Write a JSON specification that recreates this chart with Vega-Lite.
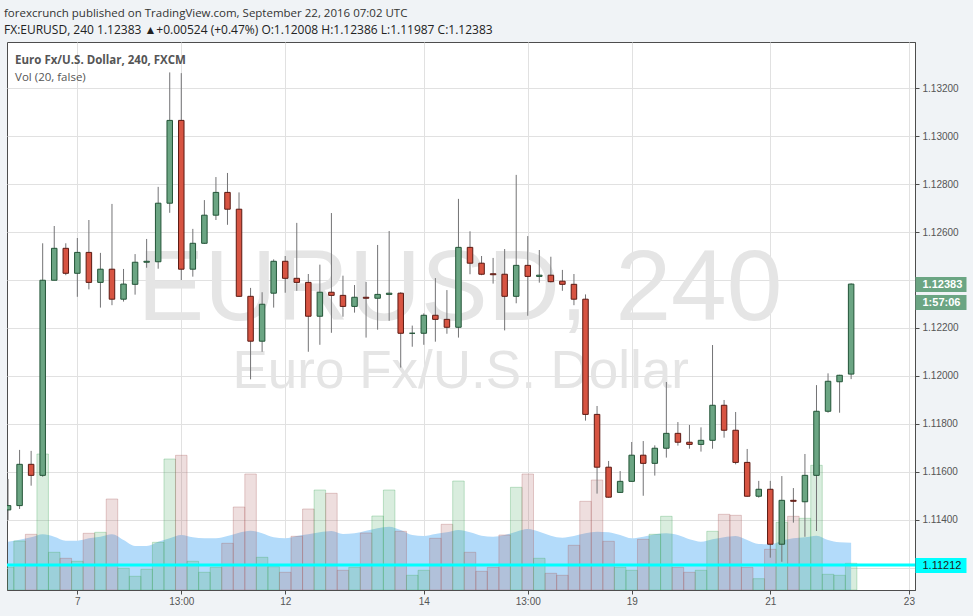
{
  "$schema": "https://vega.github.io/schema/vega-lite/v6.json",
  "width": 908,
  "height": 548,
  "autosize": {"type": "none"},
  "padding": {"left": 7, "top": 42, "right": 58, "bottom": 26},
  "background": "#f0f3f6",
  "view": {"fill": "#ffffff", "stroke": "#4d4d4d", "strokeWidth": 1},
  "title": {
    "text": "forexcrunch published on TradingView.com, September 22, 2016 07:02 UTC",
    "subtitle": "FX:EURUSD, 240  1.12383 ▲+0.00524 (+0.47%)  O:1.12008  H:1.12386  L:1.11987  C:1.12383",
    "anchor": "start",
    "frame": "group",
    "dx": -3,
    "offset": 6,
    "font": "Open Sans",
    "fontSize": 11.5,
    "fontWeight": "normal",
    "color": "#333333",
    "subtitleFont": "Open Sans",
    "subtitleFontSize": 12,
    "subtitleColor": "#222222",
    "subtitleFontWeight": "normal",
    "subtitlePadding": 5.5
  },
  "data": {
    "values": [
      {"i": -6, "o": 1.11442, "h": 1.11571, "l": 1.11400, "c": 1.11460, "v": 22.7, "ma": 48.3},
      {"i": -5, "o": 1.11460, "h": 1.11692, "l": 1.11446, "c": 1.11632, "v": 49, "ma": 50.3},
      {"i": -4, "o": 1.11632, "h": 1.11688, "l": 1.11543, "c": 1.11586, "v": 55.7, "ma": 52.7},
      {"i": -3, "o": 1.11586, "h": 1.12553, "l": 1.11580, "c": 1.12399, "v": 136, "ma": 55.7},
      {"i": -2, "o": 1.12399, "h": 1.12625, "l": 1.12399, "c": 1.12532, "v": 37.7, "ma": 53.3},
      {"i": -1, "o": 1.12532, "h": 1.12553, "l": 1.12420, "c": 1.12428, "v": 31.7, "ma": 49.3},
      {"i": 0, "o": 1.12428, "h": 1.12575, "l": 1.12330, "c": 1.12515, "v": 28.7, "ma": 49.3},
      {"i": 1, "o": 1.12515, "h": 1.12650, "l": 1.12361, "c": 1.12390, "v": 56.7, "ma": 51.7},
      {"i": 2, "o": 1.12390, "h": 1.12513, "l": 1.12285, "c": 1.12445, "v": 57.7, "ma": 53.3},
      {"i": 3, "o": 1.12445, "h": 1.12717, "l": 1.12295, "c": 1.12320, "v": 91, "ma": 55.7},
      {"i": 4, "o": 1.12320, "h": 1.12446, "l": 1.12310, "c": 1.12383, "v": 21.7, "ma": 50},
      {"i": 5, "o": 1.12382, "h": 1.12508, "l": 1.12339, "c": 1.12474, "v": 13.7, "ma": 44},
      {"i": 6, "o": 1.12474, "h": 1.12571, "l": 1.12451, "c": 1.12478, "v": 20.7, "ma": 44},
      {"i": 7, "o": 1.12476, "h": 1.12788, "l": 1.12447, "c": 1.12720, "v": 47.7, "ma": 48.3},
      {"i": 8, "o": 1.12720, "h": 1.13265, "l": 1.12680, "c": 1.13065, "v": 131, "ma": 51.7},
      {"i": 9, "o": 1.13065, "h": 1.13262, "l": 1.12400, "c": 1.12445, "v": 134.7, "ma": 55},
      {"i": 10, "o": 1.12445, "h": 1.12613, "l": 1.12414, "c": 1.12553, "v": 28.7, "ma": 52.7},
      {"i": 11, "o": 1.12553, "h": 1.12733, "l": 1.12550, "c": 1.12670, "v": 17.7, "ma": 51.7},
      {"i": 12, "o": 1.12670, "h": 1.12829, "l": 1.12650, "c": 1.12765, "v": 22.7, "ma": 51.7},
      {"i": 13, "o": 1.12765, "h": 1.12846, "l": 1.12630, "c": 1.12695, "v": 46.7, "ma": 54},
      {"i": 14, "o": 1.12695, "h": 1.12765, "l": 1.12330, "c": 1.12332, "v": 83, "ma": 57.3},
      {"i": 15, "o": 1.12332, "h": 1.12367, "l": 1.11986, "c": 1.12145, "v": 116, "ma": 59.3},
      {"i": 16, "o": 1.12145, "h": 1.12349, "l": 1.12101, "c": 1.12299, "v": 32.7, "ma": 56.7},
      {"i": 17, "o": 1.12345, "h": 1.12486, "l": 1.12285, "c": 1.12478, "v": 23.3, "ma": 52.7},
      {"i": 18, "o": 1.12478, "h": 1.12500, "l": 1.12347, "c": 1.12407, "v": 17.7, "ma": 51.7},
      {"i": 19, "o": 1.12407, "h": 1.12638, "l": 1.12355, "c": 1.12390, "v": 53.7, "ma": 54},
      {"i": 20, "o": 1.12390, "h": 1.12425, "l": 1.12101, "c": 1.12249, "v": 81, "ma": 55.7},
      {"i": 21, "o": 1.12249, "h": 1.12464, "l": 1.12130, "c": 1.12349, "v": 100, "ma": 57.7},
      {"i": 22, "o": 1.12349, "h": 1.12679, "l": 1.12180, "c": 1.12336, "v": 96.7, "ma": 59},
      {"i": 23, "o": 1.12336, "h": 1.12418, "l": 1.12247, "c": 1.12290, "v": 19.7, "ma": 56},
      {"i": 24, "o": 1.12290, "h": 1.12379, "l": 1.12264, "c": 1.12328, "v": 22.7, "ma": 56.7},
      {"i": 25, "o": 1.12328, "h": 1.12392, "l": 1.12160, "c": 1.12324, "v": 57, "ma": 59.3},
      {"i": 26, "o": 1.12324, "h": 1.12546, "l": 1.12193, "c": 1.12340, "v": 74, "ma": 61.7},
      {"i": 27, "o": 1.12340, "h": 1.12604, "l": 1.12230, "c": 1.12345, "v": 100, "ma": 63.3},
      {"i": 28, "o": 1.12345, "h": 1.12349, "l": 1.12035, "c": 1.12178, "v": 58.7, "ma": 60},
      {"i": 29, "o": 1.12178, "h": 1.12210, "l": 1.12122, "c": 1.12178, "v": 14.7, "ma": 55},
      {"i": 30, "o": 1.12178, "h": 1.12261, "l": 1.12130, "c": 1.12253, "v": 19.7, "ma": 54},
      {"i": 31, "o": 1.12253, "h": 1.12408, "l": 1.12143, "c": 1.12236, "v": 51.7, "ma": 56},
      {"i": 32, "o": 1.12236, "h": 1.12358, "l": 1.12176, "c": 1.12203, "v": 65.7, "ma": 57.7},
      {"i": 33, "o": 1.12203, "h": 1.12738, "l": 1.12160, "c": 1.12536, "v": 109, "ma": 60},
      {"i": 34, "o": 1.12536, "h": 1.12603, "l": 1.12424, "c": 1.12470, "v": 37.7, "ma": 57.7},
      {"i": 35, "o": 1.12470, "h": 1.12500, "l": 1.12420, "c": 1.12424, "v": 18.7, "ma": 54.3},
      {"i": 36, "o": 1.12426, "h": 1.12492, "l": 1.12385, "c": 1.12422, "v": 22.7, "ma": 53.3},
      {"i": 37, "o": 1.12424, "h": 1.12529, "l": 1.12190, "c": 1.12332, "v": 55, "ma": 55},
      {"i": 38, "o": 1.12332, "h": 1.12838, "l": 1.12303, "c": 1.12461, "v": 102.7, "ma": 58.3},
      {"i": 39, "o": 1.12461, "h": 1.12583, "l": 1.12251, "c": 1.12415, "v": 116, "ma": 61},
      {"i": 40, "o": 1.12415, "h": 1.12525, "l": 1.12389, "c": 1.12420, "v": 31.7, "ma": 58.3},
      {"i": 41, "o": 1.12420, "h": 1.12497, "l": 1.12390, "c": 1.12393, "v": 16.7, "ma": 54.3},
      {"i": 42, "o": 1.12395, "h": 1.12442, "l": 1.12355, "c": 1.12382, "v": 14.7, "ma": 52.3},
      {"i": 43, "o": 1.12382, "h": 1.12425, "l": 1.12295, "c": 1.12320, "v": 44.7, "ma": 54},
      {"i": 44, "o": 1.12320, "h": 1.12340, "l": 1.11814, "c": 1.11840, "v": 88.7, "ma": 56.7},
      {"i": 45, "o": 1.11840, "h": 1.11875, "l": 1.11510, "c": 1.11620, "v": 110, "ma": 58.3},
      {"i": 46, "o": 1.11620, "h": 1.11646, "l": 1.11493, "c": 1.11495, "v": 48.7, "ma": 57.7},
      {"i": 47, "o": 1.11515, "h": 1.11604, "l": 1.11513, "c": 1.11561, "v": 22.7, "ma": 55},
      {"i": 48, "o": 1.11561, "h": 1.11725, "l": 1.11560, "c": 1.11670, "v": 19.7, "ma": 51.7},
      {"i": 49, "o": 1.11670, "h": 1.11729, "l": 1.11501, "c": 1.11636, "v": 50.7, "ma": 53.3},
      {"i": 50, "o": 1.11636, "h": 1.11711, "l": 1.11585, "c": 1.11699, "v": 55.7, "ma": 55.7},
      {"i": 51, "o": 1.11699, "h": 1.11975, "l": 1.11660, "c": 1.11761, "v": 73.7, "ma": 56.7},
      {"i": 52, "o": 1.11761, "h": 1.11808, "l": 1.11710, "c": 1.11724, "v": 22.7, "ma": 55},
      {"i": 53, "o": 1.11724, "h": 1.11796, "l": 1.11697, "c": 1.11715, "v": 17.7, "ma": 50.7},
      {"i": 54, "o": 1.11715, "h": 1.11786, "l": 1.11685, "c": 1.11732, "v": 19.7, "ma": 48.3},
      {"i": 55, "o": 1.11732, "h": 1.12129, "l": 1.11697, "c": 1.11878, "v": 58.7, "ma": 50.7},
      {"i": 56, "o": 1.11878, "h": 1.11900, "l": 1.11743, "c": 1.11774, "v": 75.7, "ma": 52.7},
      {"i": 57, "o": 1.11774, "h": 1.11850, "l": 1.11632, "c": 1.11640, "v": 74.7, "ma": 54},
      {"i": 58, "o": 1.11640, "h": 1.11696, "l": 1.11497, "c": 1.11499, "v": 22.7, "ma": 50},
      {"i": 59, "o": 1.11499, "h": 1.11563, "l": 1.11493, "c": 1.11528, "v": 11.3, "ma": 46},
      {"i": 60, "o": 1.11528, "h": 1.11563, "l": 1.11243, "c": 1.11299, "v": 40.7, "ma": 45.7},
      {"i": 61, "o": 1.11299, "h": 1.11583, "l": 1.11226, "c": 1.11482, "v": 67.7, "ma": 49.3},
      {"i": 62, "o": 1.11482, "h": 1.11533, "l": 1.11389, "c": 1.11478, "v": 73.7, "ma": 51.7},
      {"i": 63, "o": 1.11476, "h": 1.11675, "l": 1.11330, "c": 1.11586, "v": 71.7, "ma": 52.7},
      {"i": 64, "o": 1.11586, "h": 1.11962, "l": 1.11354, "c": 1.11853, "v": 124.7, "ma": 54.3},
      {"i": 65, "o": 1.11853, "h": 1.12011, "l": 1.11847, "c": 1.11978, "v": 15.7, "ma": 50},
      {"i": 66, "o": 1.11976, "h": 1.12005, "l": 1.11847, "c": 1.12003, "v": 14.7, "ma": 47.7},
      {"i": 67, "o": 1.12008, "h": 1.12386, "l": 1.11987, "c": 1.12383, "v": 26.7, "ma": 47.3}
    ]
  },
  "layer": [
    {
      "data": {"values": [{"t": "EURUSD, 240"}]},
      "mark": {"type": "text", "font": "Liberation Sans", "fontSize": 100, "color": "#e5e5e5", "align": "center", "baseline": "alphabetic"},
      "encoding": {
        "text": {"field": "t", "type": "nominal"},
        "x": {"datum": 33.13, "type": "quantitative", "scale": {"domain": [-6.09, 72.53], "nice": false, "zero": false, "padding": 0}, "axis": {
            "values": [0, 9, 18, 30, 39, 48, 60, 72],
            "labelExpr": "datum.value==0?'7':datum.value==9?'13:00':datum.value==18?'12':datum.value==30?'14':datum.value==39?'13:00':datum.value==48?'19':datum.value==60?'21':'23'",
            "grid": true,
            "tickSize": 4,
            "labelPadding": 2,
            "labelFlush": false,
            "labelOverlap": false,
            "title": null
          }},
        "y": {"datum": 1.122333, "type": "quantitative", "scale": {"domain": [1.111083, 1.133917], "nice": false, "zero": false, "padding": 0}, "axis": null}
      }
    },
    {
      "data": {"values": [{"t": "Euro Fx/U.S. Dollar"}]},
      "mark": {"type": "text", "font": "Liberation Sans", "fontSize": 53, "color": "#e5e5e5", "align": "center", "baseline": "alphabetic"},
      "encoding": {
        "text": {"field": "t", "type": "nominal"},
        "x": {"datum": 33.2, "type": "quantitative"},
        "y": {"datum": 1.1195, "type": "quantitative", "scale": {"domain": [1.111083, 1.133917], "nice": false, "zero": false, "padding": 0}, "axis": null}
      }
    },
    {
      "data": {"values": [{"t": "Euro Fx/U.S. Dollar, 240, FXCM"}]},
      "mark": {"type": "text", "font": "Open Sans", "fontSize": 11.5, "fontWeight": "bold", "color": "#555555", "align": "left", "baseline": "middle"},
      "encoding": {
        "text": {"field": "t", "type": "nominal"},
        "x": {"datum": -5.39, "type": "quantitative"},
        "y": {"datum": 1.133125, "type": "quantitative", "scale": {"domain": [1.111083, 1.133917], "nice": false, "zero": false, "padding": 0}, "axis": null}
      }
    },
    {
      "data": {"values": [{"t": "Vol (20, false)"}]},
      "mark": {"type": "text", "font": "Open Sans", "fontSize": 11.5, "color": "#555555", "align": "left", "baseline": "middle"},
      "encoding": {
        "text": {"field": "t", "type": "nominal"},
        "x": {"datum": -5.39, "type": "quantitative"},
        "y": {"datum": 1.132417, "type": "quantitative", "scale": {"domain": [1.111083, 1.133917], "nice": false, "zero": false, "padding": 0}, "axis": null}
      }
    },
    {
      "encoding": {
        "x": {"field": "i", "type": "quantitative", "title": null}
      },
      "layer": [
        {
          "mark": {"type": "area", "interpolate": "monotone", "color": "#b3dbfa", "opacity": 1, "clip": true},
          "encoding": {
            "y": {"field": "ma", "type": "quantitative", "title": null, "scale": {"domain": [0, 548], "nice": false, "padding": 0}, "axis": null}
          }
        },
        {
          "mark": {"type": "bar", "size": 11.5, "orient": "vertical", "fillOpacity": 0.2, "strokeOpacity": 0.3, "strokeWidth": 1, "clip": true},
          "encoding": {
            "y": {"field": "v", "type": "quantitative", "title": null, "scale": {"domain": [0, 548], "nice": false, "padding": 0}, "axis": null},
            "fill": {"condition": {"test": "datum.c >= datum.o", "value": "#3fa55a"}, "value": "#a85a5a"},
            "stroke": {"condition": {"test": "datum.c >= datum.o", "value": "#3fa55a"}, "value": "#a85a5a"}
          }
        }
      ]
    },
    {
      "encoding": {
        "x": {"field": "i", "type": "quantitative", "title": null}
      },
      "layer": [
        {
          "mark": {"type": "rule", "color": "#737375", "strokeWidth": 1, "clip": true},
          "encoding": {
            "y": {
              "field": "l",
              "type": "quantitative",
              "title": null,
              "scale": {"domain": [1.111083, 1.133917], "nice": false, "zero": false, "padding": 0},
              "axis": {
                "orient": "right",
                "values": [1.112, 1.114, 1.116, 1.118, 1.12, 1.122, 1.124, 1.126, 1.128, 1.13, 1.132],
                "labelExpr": "(abs(datum.value-1.124)<0.00001 || abs(datum.value-1.112)<0.00001) ? '' : format(datum.value, '.5f')",
                "grid": true,
                "tickSize": 4,
                "labelPadding": 3,
                "labelFlush": false,
                "labelOverlap": false,
                "title": null
              }
            },
            "y2": {"field": "h"}
          }
        },
        {
          "mark": {"type": "bar", "size": 5.5, "orient": "vertical", "strokeWidth": 1, "clip": true},
          "encoding": {
            "y": {"field": "o", "type": "quantitative", "title": null},
            "y2": {"field": "c"},
            "fill": {"condition": {"test": "datum.c >= datum.o", "value": "#6ba583"}, "value": "#d75442"},
            "stroke": {"condition": {"test": "datum.c >= datum.o", "value": "#225437"}, "value": "#5b1a13"}
          }
        }
      ]
    },
    {
      "data": {"values": [{}]},
      "mark": {"type": "rule", "color": "#00ffff", "strokeWidth": 3},
      "encoding": {
        "y": {
          "datum": 1.11212,
          "type": "quantitative",
          "scale": {"domain": [1.111083, 1.133917], "nice": false, "zero": false, "padding": 0},
          "axis": {
            "orient": "right",
            "offset": 0,
            "values": [1.12383, 1.12308, 1.11212],
            "labelExpr": "datum.value > 1.1235 ? '1.12383' : datum.value > 1.122 ? '1:57:06' : '1.11212'",
            "domain": false,
            "grid": false,
            "tickSize": 51,
            "tickWidth": 15,
            "tickColor": {"condition": {"test": "datum.value < 1.115", "value": "#00ffff"}, "value": "#6ba583"},
            "labelColor": {"condition": {"test": "datum.value < 1.115", "value": "#222222"}, "value": "#ffffff"},
            "labelFontWeight": {"condition": {"test": "datum.value < 1.115", "value": "normal"}, "value": "bold"},
            "labelFontSize": 11,
            "labelPadding": -44,
            "labelFlush": false,
            "labelOverlap": false,
            "title": null,
            "zindex": 2
          }
        }
      }
    }
  ],
  "resolve": {"scale": {"y": "independent"}, "axis": {"y": "independent"}},
  "config": {
    "axis": {
      "labelFont": "Liberation Sans",
      "labelFontSize": 10,
      "labelColor": "#555555",
      "domainColor": "#4d4d4d",
      "tickColor": "#4d4d4d",
      "gridColor": "#e1e1e1",
      "gridWidth": 1
    }
  }
}
